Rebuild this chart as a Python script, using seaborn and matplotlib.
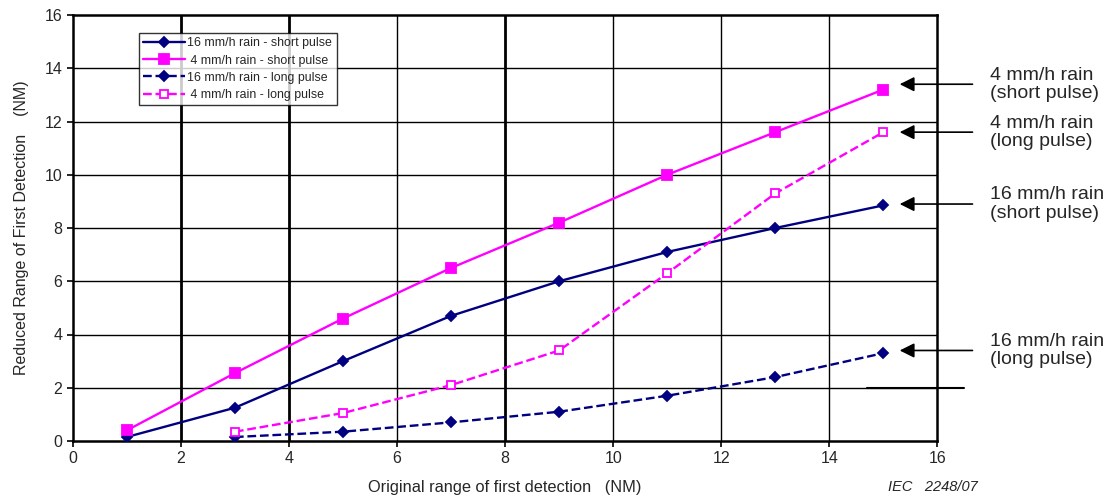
"""Reduced range of first detection in rain, short vs long pulse."""
import matplotlib
matplotlib.use("Agg")
import matplotlib.pyplot as plt
import pandas as pd
import seaborn as sns

# data
x_short = [1, 3, 5, 7, 9, 11, 13, 15]
rain16_short = [0.15, 1.25, 3.0, 4.7, 6.0, 7.1, 8.0, 8.85]
rain4_short = [0.4, 2.55, 4.6, 6.5, 8.2, 10.0, 11.6, 13.2]
x_long = [3, 5, 7, 9, 11, 13, 15]
rain16_long = [0.15, 0.35, 0.7, 1.1, 1.7, 2.4, 3.3]
rain4_long = [0.35, 1.05, 2.1, 3.4, 6.3, 9.3, 11.6]

series_labels = ["16 mm/h rain - short pulse", " 4 mm/h rain - short pulse",
                 "16 mm/h rain - long pulse", " 4 mm/h rain - long pulse"]
side_labels = ["4 mm/h rain\n(short pulse)", "4 mm/h rain\n(long pulse)",
               "16 mm/h rain\n(short pulse)", "16 mm/h rain\n(long pulse)"]
side_y = [13.4, 11.6, 8.9, 3.4]

NAVY = "#000080"
MAGENTA = "#ff00ff"


def main() -> None:
    sns.set_theme(style="white")
    plt.rcParams["font.family"] = ["Liberation Sans", "DejaVu Sans"]

    fig = plt.figure(figsize=(11.2, 5.0), dpi=100)
    ax = fig.add_axes([0.065, 0.118, 0.772, 0.852])

    styles = [
        (x_short, rain16_short, NAVY, "-", "D", NAVY, 5),
        (x_short, rain4_short, MAGENTA, "-", "s", MAGENTA, 6.5),
        (x_long, rain16_long, NAVY, "--", "D", NAVY, 5),
        (x_long, rain4_long, MAGENTA, "--", "s", "white", 6),
    ]
    for (xs, ys, col, ls, mk, mfc, ms), lab in zip(styles, series_labels):
        df = pd.DataFrame({"x": xs, "y": ys})
        sns.lineplot(data=df, x="x", y="y", ax=ax, color=col, linestyle=ls,
                     linewidth=1.7, marker=mk, markersize=ms,
                     markerfacecolor=mfc, markeredgecolor=col,
                     markeredgewidth=1.3, label=lab, zorder=3)
    handles, labels = ax.get_legend_handles_labels()

    ax.set_xlim(0, 16)
    ax.set_ylim(0, 16)
    ax.set_xticks(range(0, 17, 2))
    ax.set_yticks(range(0, 17, 2))
    ax.tick_params(axis="both", labelsize=11.5, length=4, width=1.2,
                   direction="out", color="black", left=True, bottom=True)
    for v in range(2, 16, 2):
        lw = 2.0 if v in (2, 4, 8) else 1.0
        ax.axvline(v, color="black", lw=lw, zorder=1)
        ax.axhline(v, color="black", lw=1.0, zorder=1)
    for sp in ax.spines.values():
        sp.set_color("black")
        sp.set_linewidth(1.8)

    ax.set_xlabel("Original range of first detection   (NM)", fontsize=11.8,
                  labelpad=10)
    ax.set_ylabel("Reduced Range of First Detection    (NM)", fontsize=11.5,
                  labelpad=11)

    leg = ax.legend(handles, labels, loc="upper left",
                    bbox_to_anchor=(0.069, 0.972), fontsize=8.9,
                    frameon=True, fancybox=False, handlelength=3.4,
                    borderpad=0.35, labelspacing=0.42, handletextpad=0.2)
    leg.get_frame().set_edgecolor("black")
    leg.get_frame().set_linewidth(1.0)

    # stray line segment at y=2 extending beyond the right axis
    ax.plot([14.7, 16.5], [2, 2], color="black", lw=1.5, clip_on=False)

    for lab, y in zip(side_labels, side_y):
        ax.annotate("", xy=(15.25, y), xytext=(16.7, y),
                    arrowprops=dict(arrowstyle="-|>", color="black", lw=1.2,
                                    mutation_scale=22),
                    annotation_clip=False)
        ax.text(16.98, y, lab, fontsize=14, ha="left", va="center",
                linespacing=1.1, clip_on=False)

    fig.text(0.793, 0.012, "IEC   2248/07", fontsize=10.5, style="italic",
             ha="left", va="bottom")

    fig.savefig("out.png", dpi=100)
    plt.close(fig)


if __name__ == "__main__":
    main()
